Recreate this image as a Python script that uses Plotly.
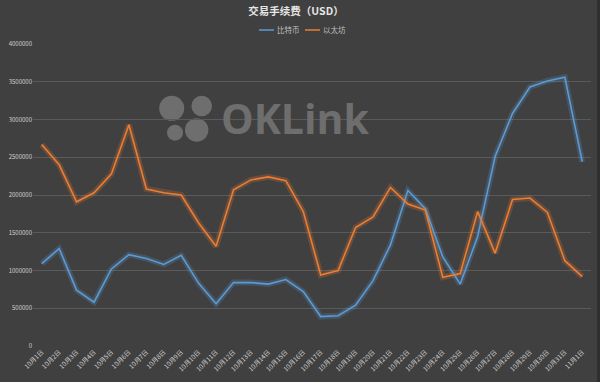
import plotly.graph_objects as go

dates = [f"10月{d}日" for d in range(1, 32)] + ["11月1日"]
btc = [1090000, 1290000, 740000, 580000, 1020000, 1210000, 1160000, 1080000, 1200000, 830000,
       560000, 840000, 840000, 820000, 880000, 720000, 390000, 400000, 540000, 865000,
       1340000, 2060000, 1820000, 1180000, 820000, 1450000, 2510000, 3080000, 3430000, 3510000,
       3560000, 2440000]
eth = [2670000, 2400000, 1910000, 2030000, 2280000, 2930000, 2080000, 2030000, 2000000, 1630000,
       1320000, 2070000, 2200000, 2240000, 2190000, 1780000, 940000, 1000000, 1570000, 1710000,
       2100000, 1880000, 1800000, 910000, 960000, 1780000, 1230000, 1940000, 1960000, 1770000,
       1130000, 920000]

series = [("比特币", btc, "#5b9bd5", "rgba(91,155,213,0.22)"),
          ("以太坊", eth, "#ed7d31", "rgba(237,125,49,0.22)")]

# plot area in pixels
L, R, T, B = 33, 591, 44, 346
W, H = R - L, B - T


def px(x):
    return (x - L) / W


def py(y):
    return (B - y) / H


fig = go.Figure()
for name, vals, col, glow in series:
    fig.add_trace(go.Scatter(x=dates, y=vals, mode="lines", line=dict(color=glow, width=6),
                             showlegend=False, hoverinfo="skip"))
for name, vals, col, glow in series:
    fig.add_trace(go.Scatter(x=dates, y=vals, mode="lines", name=name, showlegend=False,
                             line=dict(color=col, width=1.6)))

bg = "#404040"
fig.update_layout(
    width=600, height=382,
    paper_bgcolor=bg, plot_bgcolor=bg,
    margin=dict(l=L, r=600 - R, t=T, b=382 - B),
    title=dict(text="<b>交易手续费（USD）</b>", x=296 / 600, xref="container", xanchor="center",
               y=1 - 11 / 382, yanchor="middle",
               font=dict(family="Noto Sans CJK SC", size=10.5, color="#e6e6e6")),
    showlegend=False,
    font=dict(family="Noto Sans CJK SC"),
    xaxis=dict(type="category", range=[-0.5, 31.5], showgrid=False, zeroline=False,
               tickangle=-45, tickfont=dict(size=6.5, color="#d0d0d0"),
               showline=False, ticks=""),
    yaxis=dict(range=[0, 4000000], dtick=500000, tickformat="d", showgrid=True,
               gridcolor="#5a5a5a", gridwidth=1, zeroline=False,
               tickfont=dict(size=6, color="#d0d0d0"), ticks="", showline=False),
)

# manual legend
for (name, vals, col, glow), x0 in zip(series, [259, 305]):
    fig.add_shape(type="line", xref="paper", yref="paper", x0=px(x0), x1=px(x0 + 15),
                  y0=py(30), y1=py(30), line=dict(color=col, width=1.5))
    fig.add_annotation(text=name, xref="paper", yref="paper", x=px(x0 + 16), xanchor="left",
                       y=py(30), yanchor="middle", showarrow=False,
                       font=dict(family="Noto Sans CJK SC", size=7.5, color="#bfbfbf"))

# watermark logo
wm = "#6e6e6e"
for cx, cy, r in [(171.7, 108.3, 12.5), (201.7, 106, 10.3), (175, 132.7, 8), (196.7, 130, 11.7)]:
    fig.add_shape(type="circle", xref="paper", yref="paper",
                  x0=px(cx - r), x1=px(cx + r), y0=py(cy + r), y1=py(cy - r),
                  fillcolor=wm, line=dict(width=0), layer="below")
fig.add_annotation(text="<b>OKLink</b>", xref="paper", yref="paper",
                   x=px(219), xanchor="left", y=py(118), yanchor="middle",
                   showarrow=False, font=dict(family="Open Sans", size=41, color=wm))

# dark right border strip
fig.add_shape(type="rect", xref="paper", yref="paper", x0=px(597), x1=px(601),
              y0=py(383), y1=py(-1), fillcolor="#2f2f2f", line=dict(width=0))

fig.write_html("out.html")
